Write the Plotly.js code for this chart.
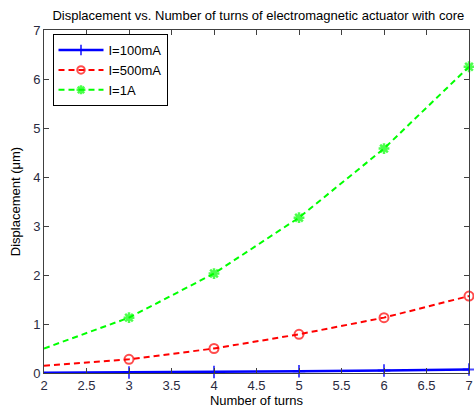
<!DOCTYPE html>
<html><head><meta charset="utf-8">
<script src="https://cdn.plot.ly/plotly-3.0.1.min.js"></script>
<style>html,body{margin:0;padding:0;background:#fff}#chart{width:474px;height:410px}</style>
</head><body><div id="chart"></div>
<script>
var turns = [2, 3, 4, 5, 6, 7];
var i100mA = [0.005, 0.01, 0.02, 0.035, 0.05, 0.07];
var i500mA = [0.15, 0.28, 0.50, 0.79, 1.13, 1.57];
var i1A = [0.50, 1.13, 2.03, 3.17, 4.58, 6.25];
var names = ['I=100mA', 'I=500mA', 'I=1A'];
var xTicks = [2, 2.5, 3, 3.5, 4, 4.5, 5, 5.5, 6, 6.5, 7];
var yTicks = [0, 1, 2, 3, 4, 5, 6, 7];

var F = 'Liberation Sans, Arial, sans-serif';
var msz = function(s){ return turns.map(function(t,i){ return i===0 ? 0 : s; }); };
var traces = [
  {x: turns, y: i100mA, name: names[0], mode: 'lines+markers', cliponaxis: false,
   line: {color: '#0000ff', width: 2.5},
   marker: {symbol: 'cross-thin-open', size: msz(9), color: '#0000ff', line: {color: '#0000ff', width: 2}}},
  {x: turns, y: i500mA, name: names[1], mode: 'lines+markers', cliponaxis: false,
   line: {color: '#ff0000', width: 2, dash: '6px,4px'},
   marker: {symbol: 'circle-open', size: msz(9), color: '#ff0000', line: {color: '#ff0000', width: 2}}},
  {x: turns, y: i1A, name: names[2], mode: 'lines+markers', cliponaxis: false,
   line: {color: '#00ff00', width: 2, dash: '6px,4px'},
   marker: {symbol: 'asterisk-open', size: msz(9), color: '#00ff00', line: {color: '#00ff00', width: 2.5}}}
];
var axisCommon = {showgrid: false, zeroline: false, showline: true, mirror: 'ticks',
  linecolor: '#404040', linewidth: 1, ticks: 'inside', ticklen: 5, tickcolor: '#404040',
  tickfont: {family: F, size: 13, color: '#2a2a40'}};
var layout = {
  width: 474, height: 410,
  margin: {l: 44, r: 5, t: 30, b: 37},
  paper_bgcolor: '#ffffff', plot_bgcolor: '#ffffff',
  title: {text: 'Displacement vs. Number of turns of electromagnetic actuator with core',
    font: {family: F, size: 13, color: '#000'},
    x: 0.545, xanchor: 'center', y: 0.963, yanchor: 'middle'},
  xaxis: Object.assign({}, axisCommon, {range: [2, 7], tickvals: xTicks, ticktext: xTicks.map(String),
    title: {text: 'Number of turns', standoff: 3, font: {family: F, size: 13, color: '#000'}}}),
  yaxis: Object.assign({}, axisCommon, {range: [0, 7], tickvals: yTicks, ticktext: yTicks.map(String),
    title: {text: 'Displacement (μm)', standoff: 9, font: {family: F, size: 13, color: '#000'}}}),
  showlegend: true,
  legend: {x: 0.02, y: 0.988, xanchor: 'left', yanchor: 'top', bordercolor: '#000', borderwidth: 1,
    bgcolor: '#fff', font: {family: F, size: 13, color: '#000'},
    tracegroupgap: 0, itemwidth: 45}
};
Plotly.newPlot('chart', traces, layout, {displayModeBar: false, staticPlot: true});
</script></body></html>
